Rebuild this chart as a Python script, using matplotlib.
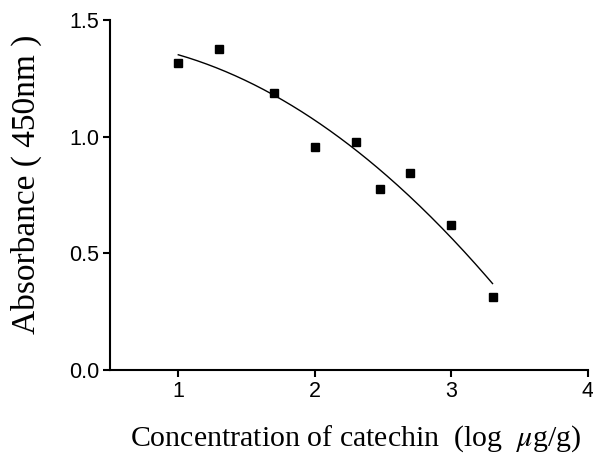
import numpy as np
import matplotlib
matplotlib.use("Agg")
import matplotlib.pyplot as plt

# data: log10 concentration of catechin (ug/g) vs absorbance at 450 nm
log_conc = [1.0, 1.301, 1.699, 2.0, 2.301, 2.477, 2.699, 3.0, 3.301]
absorbance = [1.314, 1.376, 1.186, 0.957, 0.979, 0.776, 0.844, 0.621, 0.314]

x_ticks = [1, 2, 3, 4]
y_ticks = [0.0, 0.5, 1.0, 1.5]
y_tick_labels = ["0.0", "0.5", "1.0", "1.5"]

plt.rcParams["mathtext.fontset"] = "stix"

fig = plt.figure(figsize=(5.93, 4.59), dpi=100)
ax = fig.add_axes([110 / 593, 1 - 370 / 459, (588 - 110) / 593, 350 / 459])

# quadratic regression curve
coef = np.polyfit(log_conc, absorbance, 2)
xf = np.linspace(min(log_conc), max(log_conc), 200)
ax.plot(xf, np.polyval(coef, xf), color="black", lw=1.0)

ax.plot(log_conc, absorbance, linestyle="none", marker="s", ms=5.5,
        color="black")

ax.set_xlim(0.5, 4)
ax.set_ylim(0, 1.5)
ax.set_xticks(x_ticks)
ax.set_yticks(y_ticks)
ax.set_yticklabels(y_tick_labels)
for s in ["top", "right"]:
    ax.spines[s].set_visible(False)
for s in ["left", "bottom"]:
    ax.spines[s].set_linewidth(1.5)
ax.tick_params(direction="out", length=5, width=1.5, labelsize=15.5, pad=3)
for lab in ax.get_xticklabels() + ax.get_yticklabels():
    lab.set_family("Liberation Sans")

ax.set_xlabel(r"Concentration of catechin  (log  $\mu$g/g)",
              family="Liberation Serif", fontsize=21.5)
ax.xaxis.set_label_coords(0.513, -0.152)
ax.set_ylabel("Absorbance ( 450nm )", family="Liberation Serif",
              fontsize=24)
ax.yaxis.set_label_coords(-0.142, 0.53)

fig.savefig("out.png", dpi=100)
